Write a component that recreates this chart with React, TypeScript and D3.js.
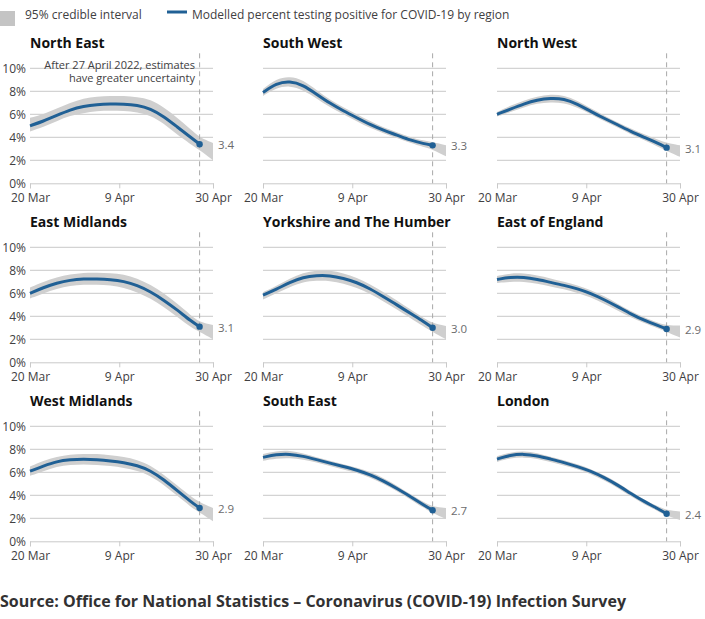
import { useEffect, useRef } from 'react'
import * as d3 from 'd3'

const lineDays = [0, 3, 6, 9, 12, 15, 18, 21, 24, 27, 30, 33, 36, 38]
const bandDays = [...lineDays, 41]

const neLine = [5.0, 5.4, 5.9, 6.4, 6.7, 6.85, 6.9, 6.9, 6.8, 6.5, 5.8, 4.9, 4.0, 3.4]
const neUpper = [5.7, 6.0, 6.5, 7.0, 7.4, 7.55, 7.6, 7.6, 7.5, 7.3, 6.6, 5.7, 4.7, 4.0, 3.5]
const neLower = [4.5, 4.9, 5.4, 5.9, 6.1, 6.3, 6.3, 6.3, 6.2, 5.9, 5.2, 4.2, 3.4, 2.9, 2.0]

const swLine = [7.9, 8.7, 8.9, 8.55, 7.75, 6.95, 6.3, 5.7, 5.1, 4.6, 4.2, 3.75, 3.45, 3.3]
const swUpper = [8.2, 9.1, 9.3, 9.0, 8.1, 7.25, 6.6, 6.0, 5.4, 4.85, 4.45, 4.0, 3.7, 3.6, 3.3]
const swLower = [7.6, 8.3, 8.5, 8.1, 7.4, 6.6, 6.0, 5.4, 4.8, 4.35, 3.95, 3.5, 3.15, 2.95, 2.35]

const nwLine = [6.0, 6.45, 6.9, 7.25, 7.4, 7.35, 6.9, 6.25, 5.65, 5.1, 4.5, 4.0, 3.5, 3.1]
const nwUpper = [6.2, 6.75, 7.2, 7.55, 7.75, 7.65, 7.2, 6.5, 5.9, 5.3, 4.75, 4.25, 3.8, 3.5, 3.3]
const nwLower = [5.8, 6.2, 6.6, 6.95, 7.05, 7.0, 6.6, 6.0, 5.4, 4.85, 4.25, 3.75, 3.2, 2.8, 2.3]

const emLine = [6.0, 6.5, 6.9, 7.15, 7.25, 7.25, 7.2, 7.05, 6.7, 6.15, 5.4, 4.55, 3.6, 3.1]
const emUpper = [6.5, 7.0, 7.4, 7.65, 7.8, 7.8, 7.75, 7.65, 7.3, 6.75, 6.0, 5.1, 4.1, 3.5, 3.25]
const emLower = [5.55, 6.0, 6.4, 6.65, 6.75, 6.75, 6.7, 6.5, 6.1, 5.55, 4.8, 3.95, 3.05, 2.65, 2.0]

const yhLine = [5.85, 6.35, 6.95, 7.4, 7.55, 7.55, 7.3, 6.95, 6.4, 5.7, 5.0, 4.25, 3.55, 3.0]
const yhUpper = [6.1, 6.65, 7.3, 7.8, 8.0, 8.0, 7.75, 7.35, 6.8, 6.1, 5.4, 4.6, 3.85, 3.4, 3.15]
const yhLower = [5.45, 6.0, 6.55, 7.0, 7.1, 7.1, 6.85, 6.5, 5.95, 5.3, 4.6, 3.85, 3.1, 2.65, 2.0]

const eeLine = [7.2, 7.4, 7.4, 7.2, 6.95, 6.7, 6.4, 6.0, 5.45, 4.85, 4.2, 3.65, 3.2, 2.9]
const eeUpper = [7.5, 7.75, 7.75, 7.55, 7.3, 7.0, 6.7, 6.3, 5.75, 5.1, 4.45, 3.9, 3.45, 3.2, 3.2]
const eeLower = [6.9, 7.0, 7.0, 6.85, 6.6, 6.35, 6.05, 5.65, 5.1, 4.5, 3.9, 3.4, 2.95, 2.65, 2.15]

const wmLine = [6.1, 6.55, 6.95, 7.1, 7.15, 7.1, 7.0, 6.85, 6.6, 6.15, 5.35, 4.4, 3.45, 2.9]
const wmUpper = [6.5, 7.0, 7.35, 7.55, 7.6, 7.6, 7.5, 7.35, 7.1, 6.6, 5.8, 4.85, 3.9, 3.4, 2.9]
const wmLower = [5.7, 6.1, 6.5, 6.65, 6.7, 6.65, 6.55, 6.4, 6.15, 5.7, 4.9, 3.95, 3.0, 2.5, 1.75]

const seLine = [7.3, 7.55, 7.6, 7.4, 7.1, 6.8, 6.5, 6.2, 5.8, 5.25, 4.6, 3.9, 3.15, 2.7]
const seUpper = [7.6, 7.85, 7.9, 7.65, 7.3, 7.0, 6.7, 6.4, 6.05, 5.5, 4.85, 4.1, 3.4, 3.0, 2.9]
const seLower = [7.0, 7.2, 7.25, 7.1, 6.85, 6.55, 6.25, 5.95, 5.55, 5.0, 4.35, 3.65, 2.9, 2.45, 1.95]

const loLine = [7.15, 7.5, 7.6, 7.45, 7.15, 6.85, 6.5, 6.1, 5.55, 4.9, 4.15, 3.45, 2.85, 2.4]
const loUpper = [7.4, 7.75, 7.85, 7.7, 7.35, 7.05, 6.7, 6.3, 5.75, 5.1, 4.35, 3.6, 3.05, 2.7, 2.6]
const loLower = [6.9, 7.25, 7.3, 7.2, 6.9, 6.6, 6.3, 5.85, 5.3, 4.65, 3.9, 3.2, 2.65, 2.2, 1.85]

const regions = [
  { name: 'North East', line: neLine, upper: neUpper, lower: neLower, label: '3.4' },
  { name: 'South West', line: swLine, upper: swUpper, lower: swLower, label: '3.3' },
  { name: 'North West', line: nwLine, upper: nwUpper, lower: nwLower, label: '3.1' },
  { name: 'East Midlands', line: emLine, upper: emUpper, lower: emLower, label: '3.1' },
  { name: 'Yorkshire and The Humber', line: yhLine, upper: yhUpper, lower: yhLower, label: '3.0' },
  { name: 'East of England', line: eeLine, upper: eeUpper, lower: eeLower, label: '2.9' },
  { name: 'West Midlands', line: wmLine, upper: wmUpper, lower: wmLower, label: '2.9' },
  { name: 'South East', line: seLine, upper: seUpper, lower: seLower, label: '2.7' },
  { name: 'London', line: loLine, upper: loUpper, lower: loLower, label: '2.4' },
]

const xTicks = [0, 20, 41]
const xTickLabels = ['20 Mar', '9 Apr', '30 Apr']
const yTicks = [0, 2, 4, 6, 8, 10]
const lastEstimateDay = 38

const font = '"Open Sans", sans-serif'
const blue = '#206095'
const bandGrey = '#cfcfcf'
const gridGrey = '#c9c9c9'
const textGrey = '#414042'

const colX = [30, 263, 497]
const rowY = [183.3, 362.3, 541.3]
const panelW = 183
const panelH = 115

export default function App() {
  const svgRef = useRef<SVGSVGElement>(null)

  useEffect(() => {
    const svg = d3.select(svgRef.current)
    svg.selectAll('*').remove()

    const xScale = d3.scaleLinear().domain([0, 41]).range([0, panelW])
    const yScale = d3.scaleLinear().domain([0, 10]).range([0, -panelH])

    // Legend
    svg.append('rect').attr('x', 0).attr('y', 11).attr('width', 15).attr('height', 15).attr('fill', '#c4c4c4')
    svg.append('text').attr('x', 25).attr('y', 19).attr('font-size', 12).attr('fill', textGrey)
      .text('95% credible interval')
    svg.append('line').attr('x1', 167).attr('x2', 187).attr('y1', 12).attr('y2', 12)
      .attr('stroke', blue).attr('stroke-width', 3)
    svg.append('text').attr('x', 192).attr('y', 19).attr('font-size', 12).attr('fill', textGrey)
      .text('Modelled percent testing positive for COVID-19 by region')

    const band = d3.area<number>()
      .x((_, i) => xScale(bandDays[i]))
      .curve(d3.curveBasis)

    const line = d3.line<number>()
      .x((_, i) => xScale(lineDays[i]))
      .y((d) => yScale(d))
      .curve(d3.curveBasis)

    regions.forEach((region, idx) => {
      const col = idx % 3
      const row = Math.floor(idx / 3)
      const g = svg.append('g').attr('transform', `translate(${colX[col]},${rowY[row]})`)

      // Grid lines, 0 is the axis itself
      g.selectAll('.grid')
        .data(yTicks.filter((t) => t > 0))
        .join('line')
        .attr('x1', 0).attr('x2', panelW)
        .attr('y1', (d) => yScale(d)).attr('y2', (d) => yScale(d))
        .attr('stroke', gridGrey)

      // Band
      g.append('path')
        .datum(region.upper)
        .attr('fill', bandGrey)
        .attr('d', band.y0((_, i) => yScale(region.lower[i])).y1((d) => yScale(d)))

      // Axes
      g.append('g')
        .call(d3.axisBottom(xScale).tickValues(xTicks).tickSize(5).tickPadding(5)
          .tickFormat((_, i) => xTickLabels[i]))
        .call((a) => a.selectAll('.domain').attr('stroke', gridGrey))
        .call((a) => a.selectAll('.tick line').attr('stroke', gridGrey))
        .call((a) => a.selectAll('text').attr('fill', textGrey).attr('font-size', 12).attr('font-family', font))

      if (col === 0) {
        g.append('g')
          .call(d3.axisLeft(yScale).tickValues(yTicks).tickSize(0).tickPadding(4)
            .tickFormat((d) => `${d}%`))
          .call((a) => a.select('.domain').remove())
          .call((a) => a.selectAll('text').attr('fill', textGrey).attr('font-size', 12).attr('font-family', font))
      }

      // Dashed marker at 27 April
      g.append('line')
        .attr('x1', xScale(lastEstimateDay)).attr('x2', xScale(lastEstimateDay))
        .attr('y1', -130).attr('y2', 0)
        .attr('stroke', '#a8a8a8')
        .attr('stroke-dasharray', '5,4')

      g.append('path')
        .datum(region.line)
        .attr('fill', 'none')
        .attr('stroke', blue)
        .attr('stroke-width', 3)
        .attr('d', line)

      const lastVal = region.line[region.line.length - 1]
      g.append('circle')
        .attr('cx', xScale(lastEstimateDay)).attr('cy', yScale(lastVal))
        .attr('r', 3.2).attr('fill', blue)

      g.append('text')
        .attr('x', panelW + 5)
        .attr('y', yScale(lastVal) + 5)
        .attr('font-size', 11.5)
        .attr('fill', '#6b6b6d')
        .text(region.label)

      g.append('text')
        .attr('x', 0).attr('y', -135)
        .attr('font-size', 14).attr('font-weight', 700)
        .attr('fill', '#111')
        .text(region.name)

      if (idx === 0) {
        const note = ['After 27 April 2022, estimates', 'have greater uncertainty']
        note.forEach((t, i) => {
          g.append('text')
            .attr('x', 165).attr('y', -114 + i * 12.5)
            .attr('text-anchor', 'end')
            .attr('font-size', 11).attr('fill', textGrey)
            .text(t)
        })
      }
    })

    svg.append('text')
      .attr('x', 0).attr('y', 607)
      .attr('font-size', 16).attr('font-weight', 700)
      .attr('fill', '#323132')
      .text('Source: Office for National Statistics – Coronavirus (COVID-19) Infection Survey')
  }, [])

  return (
    <svg
      ref={svgRef}
      width={705}
      height={619}
      style={{ position: 'absolute', left: 0, top: 0, fontFamily: font, background: '#fff' }}
    />
  )
}
